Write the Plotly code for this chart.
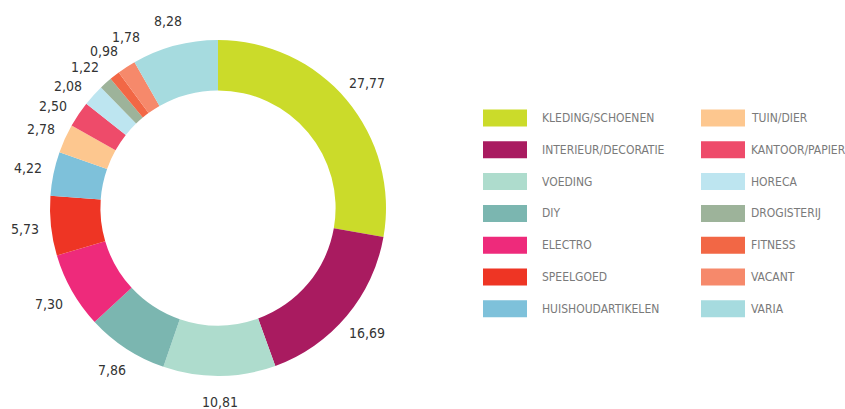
import math
import plotly.graph_objects as go

# Share of floor space per retail category (%)
categories = [
    "KLEDING/SCHOENEN", "INTERIEUR/DECORATIE", "VOEDING", "DIY", "ELECTRO",
    "SPEELGOED", "HUISHOUDARTIKELEN", "TUIN/DIER", "KANTOOR/PAPIER", "HORECA",
    "DROGISTERIJ", "FITNESS", "VACANT", "VARIA",
]
shares = [27.77, 16.69, 10.81, 7.86, 7.30, 5.73, 4.22, 2.78, 2.50, 2.08,
          1.22, 0.98, 1.78, 8.28]
colors = [
    "#CBDB2A", "#A91B60", "#AEDCCD", "#7BB6B0", "#EE2A7B", "#EE3524",
    "#7EC1DA", "#FDC78F", "#EE4B6A", "#BDE5F0", "#9DB39A", "#F26745",
    "#F6896B", "#A6DBDF",
]

# Dutch number formatting: comma as decimal separator
labels_txt = [f"{v:.2f}".replace(".", ",") for v in shares]

FONT = "DejaVu Sans Condensed, sans-serif"
W, H = 845, 409

# Donut geometry (pixels)
cx, cy, R = 218, 208, 168
label_r = 194

fig = go.Figure(
    go.Pie(
        labels=categories,
        values=shares,
        text=labels_txt,
        textinfo="none",
        sort=False,
        direction="clockwise",
        rotation=0,
        hole=0.70,
        marker=dict(colors=colors, line=dict(width=0)),
        domain=dict(x=[(cx - R) / W, (cx + R) / W],
                    y=[1 - (cy + R) / H, 1 - (cy - R) / H]),
        showlegend=False,
        hoverinfo="label+text",
    )
)

annotations, shapes = [], []

# Mid-angle of every slice (degrees, clockwise from 12 o'clock)
total = sum(shares)
angles, cum = [], 0.0
for v in shares:
    angles.append((cum + v / 2) / total * 360)
    cum += v

# Spread labels of thin neighbouring slices so they don't collide
min_sep = 7.5
for _ in range(200):
    moved = False
    for i in range(len(angles) - 1):
        gap = angles[i + 1] - angles[i]
        if gap < min_sep:
            push = (min_sep - gap) / 2
            angles[i] -= push
            angles[i + 1] += push
            moved = True
    if not moved:
        break

for txt, a in zip(labels_txt, angles):
    t = math.radians(a)
    x = cx + label_r * math.sin(t)
    y = cy - label_r * math.cos(t)
    annotations.append(dict(
        text=txt, xref="paper", yref="paper", x=x / W, y=1 - y / H,
        xanchor="center", yanchor="middle", showarrow=False,
        font=dict(family=FONT, size=14, color="#333333"),
    ))

# Two-column legend built from the category list
rows = 7
col_x = [483, 701]
text_x = [540, 749]
sw_w, sw_h = 44, 17
row0, row_step = 118, 31.8
for i, (cat, col) in enumerate(zip(categories, colors)):
    c, r = divmod(i, rows)
    x0 = col_x[c]
    yc = row0 + r * row_step
    shapes.append(dict(
        type="rect", xref="paper", yref="paper",
        x0=x0 / W, x1=(x0 + sw_w) / W,
        y0=1 - (yc + sw_h / 2) / H, y1=1 - (yc - sw_h / 2) / H,
        fillcolor=col, line=dict(width=0),
    ))
    annotations.append(dict(
        text=cat, xref="paper", yref="paper",
        x=text_x[c] / W, y=1 - yc / H,
        xanchor="left", yanchor="middle", showarrow=False,
        font=dict(family=FONT, size=12, color="#7a7a7a"),
    ))

fig.update_layout(
    width=W, height=H,
    margin=dict(l=0, r=0, t=0, b=0, autoexpand=False),
    paper_bgcolor="white", plot_bgcolor="white",
    shapes=shapes, annotations=annotations,
)

fig.write_html("out.html")
